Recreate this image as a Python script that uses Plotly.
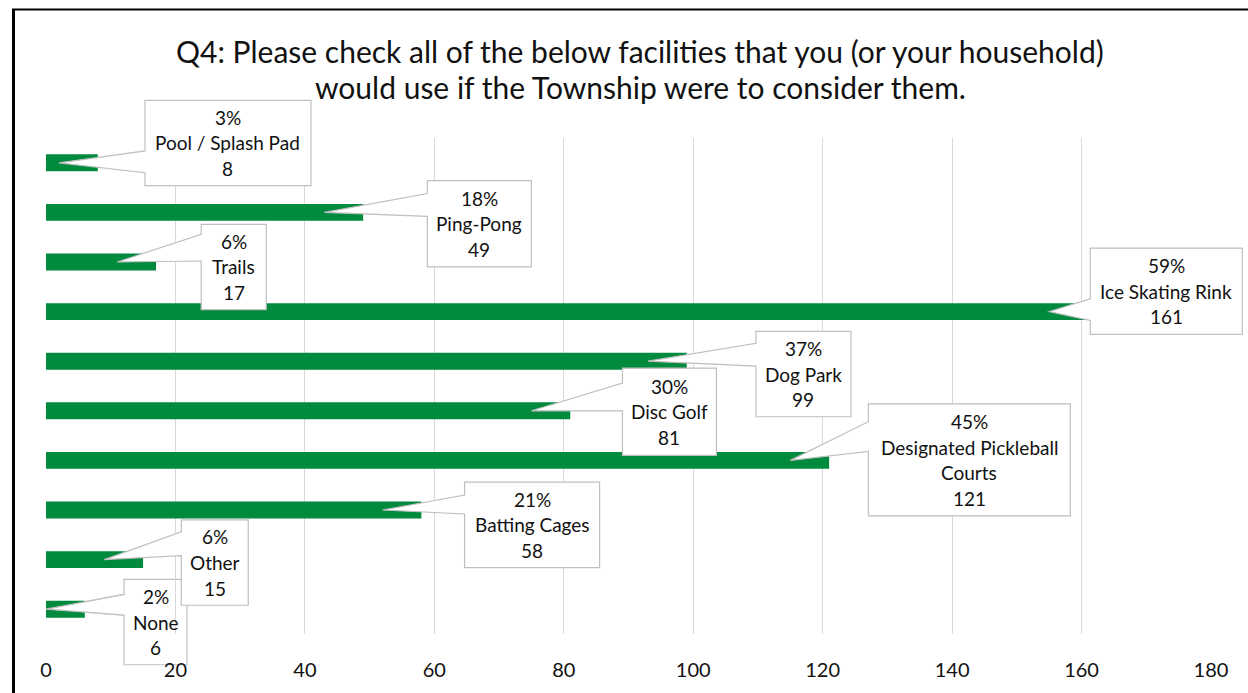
import textwrap
import plotly.graph_objects as go

# Survey results: facilities residents would use
facilities = [
    "Pool / Splash Pad", "Ping-Pong", "Trails", "Ice Skating Rink", "Dog Park",
    "Disc Golf", "Designated Pickleball Courts", "Batting Cages", "Other", "None",
]
responses = [8, 49, 17, 161, 99, 81, 121, 58, 15, 6]
percents = [3, 18, 6, 59, 37, 30, 45, 21, 6, 2]
x_ticks = [0, 20, 40, 60, 80, 100, 120, 140, 160, 180]

title_lines = [
    "Q4: Please check all of the below facilities that you (or your household)",
    "would use if the Township were to consider them.",
]

# Callout placement (pixels): box centre offset from the pointer tip, box size,
# and the span of the pointer base relative to the tip.
callout_offset = [(169, -20), (155, 11.5), (116.5, 5), (117, -20.5), (155.5, 13),
                  (138, 1), (179, -0.5), (149.5, 15), (110.5, 3), (109.5, 13)]
callout_size = [(166, 86), (104, 87), (65, 86), (152, 87), (95, 86),
                (94, 88), (202, 113), (135, 86), (67, 86), (63, 86)]
wedge_span = [(-12, 10), (-19, 4), (-28, -1), (-13, 9), (-18, 5),
              (-28, 0), (-39, -9), (-15, 4), (-28, -4), (-15, 6)]
below_layer = [False] * 9 + [True]

W, H = 1248, 693
M_L, M_R, M_T, M_B = 46, 37, 138, 55
X_RANGE = (0, 180)
PLOT_W = W - M_L - M_R
PLOT_H = H - M_T - M_B
N = len(facilities)
ROW_H = PLOT_H / N
X_SCALE = PLOT_W / (X_RANGE[1] - X_RANGE[0])
TIP_INSET = 38.8  # pointer tip sits this far inside the bar end
LINE_GAP = 25.8

GREEN = "#008A3E"
GRID = "#D9D9D9"
EDGE = "#BFBFBF"
FONT = "Lato"


def px_x(v):
    return M_L + (v - X_RANGE[0]) * X_SCALE


def paper_x(px):
    return (px - M_L) / PLOT_W


def paper_y(py):
    return (M_T + PLOT_H - py) / PLOT_H


fig = go.Figure()
fig.add_trace(go.Bar(
    x=responses,
    y=list(range(N)),
    orientation="h",
    width=0.34,
    marker=dict(color=GREEN, line=dict(width=0)),
    hoverinfo="skip",
))

shapes = []
annotations = []

for i in range(N):
    tx = px_x(responses[i]) - TIP_INSET
    ty = M_T + (i + 0.5) * ROW_H
    dx, dy = callout_offset[i]
    bw, bh = callout_size[i]
    cx, cy = tx + dx, ty + dy
    left, right = cx - bw / 2, cx + bw / 2
    top, bottom = cy - bh / 2, cy + bh / 2
    b_top, b_bot = ty + wedge_span[i][0], ty + wedge_span[i][1]

    pts = [(left, top), (right, top), (right, bottom), (left, bottom),
           (left, b_bot), (tx, ty), (left, b_top)]
    path = "M " + " L ".join(f"{paper_x(x):.5f},{paper_y(y):.5f}" for x, y in pts) + " Z"
    shapes.append(dict(
        type="path", path=path, xref="paper", yref="paper",
        fillcolor="white", line=dict(color=EDGE, width=1.2),
        layer="between" if below_layer[i] else "above",
    ))
    if below_layer[i]:
        wpts = [(left + 0.6, b_top), (tx, ty), (left + 0.6, b_bot)]
        wpath = "M " + " L ".join(f"{paper_x(x):.5f},{paper_y(y):.5f}" for x, y in wpts)
        shapes.append(dict(
            type="path", path=wpath, xref="paper", yref="paper",
            fillcolor="white", line=dict(color=EDGE, width=1.2), layer="above",
        ))

    lines = [f"{percents[i]}%"] + textwrap.wrap(facilities[i], 21) + [str(responses[i])]
    first = cy - (len(lines) - 1) * LINE_GAP / 2
    for k, line in enumerate(lines):
        annotations.append(dict(
            text=line, xref="paper", yref="paper",
            x=paper_x(cx), y=paper_y(first + k * LINE_GAP),
            xanchor="center", yanchor="middle", showarrow=False,
            font=dict(family=FONT, size=19, color="#111111"),
        ))

# Title, two centred lines
for k, (line, py) in enumerate(zip(title_lines, (50, 87))):
    annotations.append(dict(
        text=line, xref="paper", yref="paper",
        x=paper_x(640), y=paper_y(py), xanchor="center", yanchor="middle",
        showarrow=False, font=dict(family=FONT, size=30, color="#111111"),
    ))

# Frame around the chart (left and top edges)
shapes.append(dict(type="line", xref="paper", yref="paper",
                   x0=paper_x(13.5), x1=paper_x(13.5), y0=paper_y(8), y1=paper_y(720),
                   line=dict(color="black", width=3), layer="above"))
shapes.append(dict(type="line", xref="paper", yref="paper",
                   x0=paper_x(12), x1=paper_x(1300), y0=paper_y(8.5), y1=paper_y(8.5),
                   line=dict(color="black", width=2), layer="above"))

fig.update_layout(
    width=W, height=H,
    margin=dict(l=M_L, r=M_R, t=M_T, b=M_B),
    paper_bgcolor="white", plot_bgcolor="white",
    showlegend=False,
    shapes=shapes,
    annotations=annotations,
    xaxis=dict(
        range=list(X_RANGE), tickvals=x_ticks, ticktext=[str(t) for t in x_ticks],
        showgrid=True, gridcolor=GRID, gridwidth=1.3, zeroline=False,
        showline=False, ticks="", ticklabelstandoff=22,
        tickfont=dict(family=FONT, size=20, color="#111111"),
        fixedrange=True,
    ),
    yaxis=dict(
        range=[N - 0.5, -0.5], showticklabels=False, showgrid=False,
        zeroline=False, showline=False, ticks="", fixedrange=True,
    ),
)

fig.write_html("out.html")
